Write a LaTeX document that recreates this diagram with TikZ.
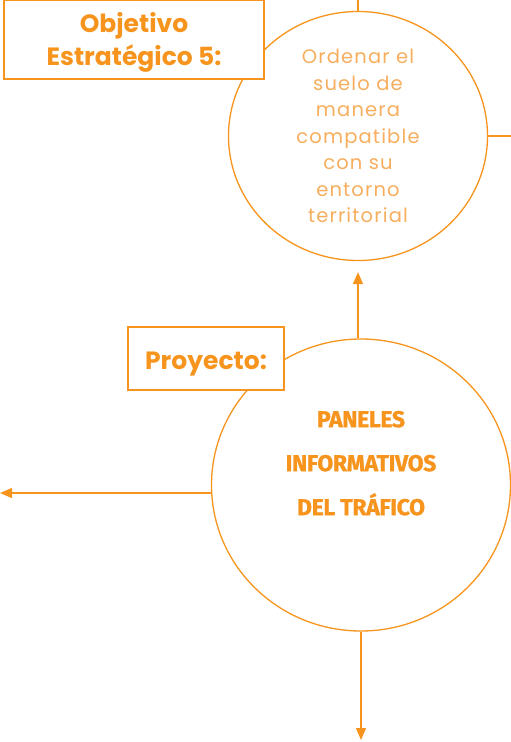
\documentclass[tikz,border=0pt]{standalone}
\usepackage{fontspec}
\usepackage{tikz}
\usetikzlibrary{arrows.meta, shapes.geometric, positioning, calc}
\newfontfamily\tagfont{Poppins}
\newfontfamily\goalfont{Poppins}[LetterSpace=6]
\newfontfamily\projfont{Fira Sans}[LetterSpace=-1.5, FakeBold=1]
\definecolor{naranja}{HTML}{F7941D}
\definecolor{naranjaclaro}{HTML}{F7AE5E}

\begin{document}
\begin{tikzpicture}[
  x=1pt, y=-1pt,
  bubble/.style={draw=naranja, line width=1.3pt, ellipse, fill=white,
                 align=center, inner sep=0pt},
  tag/.style={draw=naranja, line width=1.3pt, fill=white, text=naranja,
              align=center, inner sep=0pt},
  link/.style={draw=naranja, line width=1.3pt},
  arrow/.style={link, -{Triangle[length=12pt, width=10pt]}}
]
  \useasboundingbox (0,0) rectangle (511,742);

  \node[bubble, minimum width=259pt, minimum height=249pt, text=naranjaclaro,
        font={\goalfont\fontsize{19.5}{26.5}\selectfont}] (goal) at (358,136)
        {Ordenar el\\suelo de\\manera\\compatible\\con su\\entorno\\territorial};
  \node[tag, minimum width=260pt, minimum height=79pt,
        font={\tagfont\bfseries\fontsize{25}{33}\selectfont}] (goaltag) at (134,39.5)
        {\rule{0pt}{26pt}Objetivo\\Estratégico 5:};

  \node[bubble, minimum width=299pt, minimum height=292pt, text=naranja,
        font={\projfont\bfseries\fontsize{23}{44}\selectfont}] (proj) at (361,485)
        {PANELES\\INFORMATIVOS\\DEL TRÁFICO\\\mbox{}};
  \node[tag, minimum width=156pt, minimum height=63pt,
        font={\tagfont\bfseries\fontsize{25}{25}\selectfont}] (projtag) at (206,358.5)
        {\rule{0pt}{29pt}Proyecto:};

  \coordinate (topend) at (358,0);
  \coordinate (rightend) at (511,136);
  \coordinate (leftend) at (0,493);
  \coordinate (downend) at (361,740);

  \draw[link] (goal.north) -- (topend);
  \draw[link] (goal.east) -- (rightend);
  \draw[arrow, shorten >=11pt] (proj.north -| goal.south) -- (goal.south);
  \draw[arrow] (proj.west |- leftend) -- (leftend);
  \draw[arrow] (proj.south) -- (downend);
\end{tikzpicture}
\end{document}
